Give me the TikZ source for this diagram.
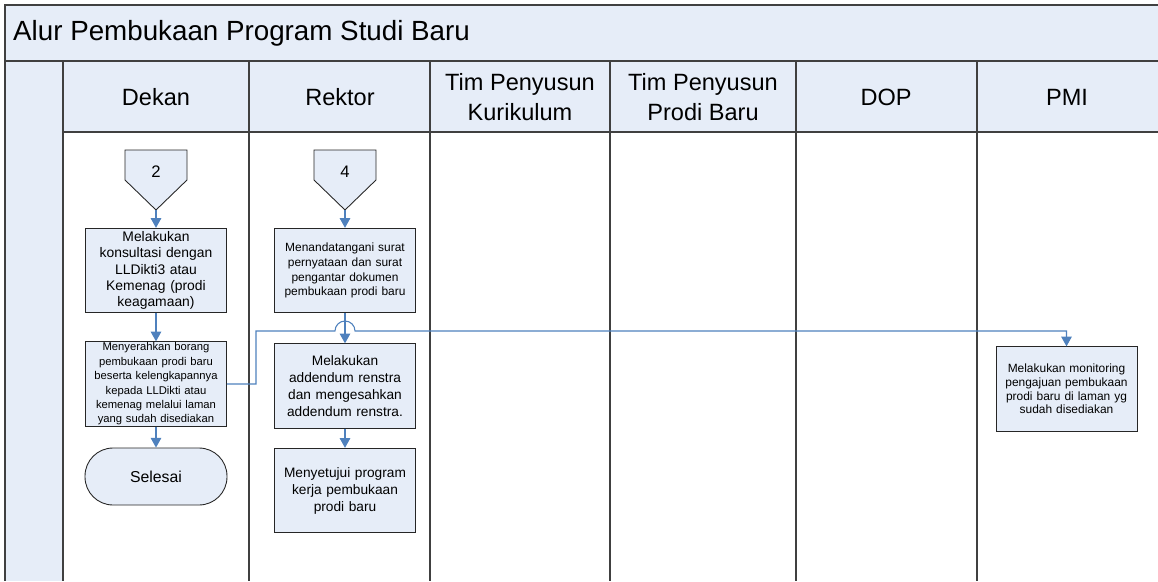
\documentclass[tikz,border=0pt]{standalone}
\usepackage{fontspec}
\setmainfont{Liberation Sans}
\usetikzlibrary{positioning, arrows.meta, calc}
\definecolor{lanefill}{RGB}{230,237,248}
\definecolor{flowblue}{RGB}{79,129,189}
\definecolor{laneline}{RGB}{64,64,64}

\begin{document}
\begin{tikzpicture}[x=0.02cm, y=0.02cm,
	lane/.style = {draw=laneline, line width=1.1pt},
	head/.style = {font=\fontsize{13.4}{17}\selectfont, align=center},
	proc/.style = {draw=black!85, fill=lanefill, line width=0.5pt, align=center, text width=2.7cm, minimum width=2.82cm, minimum height=1.69cm, inner sep=0pt},
	term/.style = {draw=black!85, fill=lanefill, line width=0.5pt, rounded corners=0.56cm, minimum width=2.84cm, minimum height=1.14cm, font=\fontsize{9}{10}\selectfont},
	offpage/.style = {draw=black!85, fill=lanefill, line width=0.5pt},
	flow/.style = {draw=flowblue, line width=0.6pt, -{Triangle[width=6pt,length=5.5pt]}}]
	\useasboundingbox (0,0) rectangle (1158,-581);
	% swimlanes
	\fill[lanefill] (5,-5) rectangle (1158,-132);
	\fill[lanefill] (5,-132) rectangle (63,-581);
	\draw[lane] (1158,-5) -- (5,-5) -- (5,-581);
	\draw[lane] (5,-61) -- (1158,-61);
	\draw[lane] (63,-132) -- (1158,-132);
	\foreach \x in {63,249,430,610,796,977}
		\draw[lane] (\x,-61) -- (\x,-581);
	\node[anchor=west, font=\fontsize{15.8}{18}\selectfont] (title) at (7,-33) {Alur Pembukaan Program Studi Baru};
	\node[head] (dekan) at (156,-97) {Dekan};
	\node[head] (rektor) at (340,-97) {Rektor};
	\node[head] (timkur) at (520,-97) {Tim Penyusun\\Kurikulum};
	\node[head] (timprodi) at (703,-97) {Tim Penyusun\\Prodi Baru};
	\node[head] (dop) at (886,-97) {DOP};
	\node[head] (pmi) at (1067,-97) {PMI};
	% off-page connectors
	\draw[offpage] (125,-150) -- (187,-150) -- (187,-180) -- (156,-210) -- (125,-180) -- cycle;
	\node[font=\fontsize{9.5}{11}\selectfont] (c2) at (156,-172) {2};
	\coordinate (c2tip) at (156,-210);
	\draw[offpage] (314,-150) -- (376,-150) -- (376,-180) -- (345,-210) -- (314,-180) -- cycle;
	\node[font=\fontsize{9.5}{11}\selectfont] (c4) at (345,-172) {4};
	\coordinate (c4tip) at (345,-210);
	% Dekan
	\node[proc, font=\fontsize{7.9}{9.2}\selectfont] (konsul) at (156,-270.5) {Melakukan\\konsultasi dengan\\LLDikti3 atau\\Kemenag (prodi\\keagamaan)};
	\node[proc, font=\fontsize{6.4}{8.2}\selectfont] (serah) at (156,-384) {Menyerahkan borang\\pembukaan prodi baru\\beserta kelengkapannya\\kepada LLDikti atau\\kemenag melalui laman\\yang sudah disediakan};
	\node[term] (selesai) at (156,-476.5) {Selesai};
	% Rektor
	\node[proc, font=\fontsize{6.8}{8.5}\selectfont] (ttd) at (345,-270.5) {Menandatangani surat\\pernyataan dan surat\\pengantar dokumen\\pembukaan prodi baru};
	\node[proc, font=\fontsize{7.8}{9.7}\selectfont] (addendum) at (345,-386) {Melakukan\\addendum renstra\\dan mengesahkan\\addendum renstra.};
	\node[proc, font=\fontsize{7.8}{9.7}\selectfont] (setuju) at (345,-490.5) {Menyetujui program\\kerja pembukaan\\prodi baru};
	% PMI
	\node[proc, font=\fontsize{6.8}{7.7}\selectfont] (monitor) at (1066.5,-389) {Melakukan monitoring\\pengajuan pembukaan\\prodi baru di laman yg\\sudah disediakan};
	% arrows
	\draw[flow] (c2tip) -- (konsul);
	\draw[flow] (konsul) -- (serah);
	\draw[flow] (serah) -- (selesai);
	\draw[flow] (c4tip) -- (ttd);
	\draw[flow] (ttd) -- (addendum);
	\draw[flow] (addendum) -- (setuju);
	\coordinate (bend) at (256,-331);
	\coordinate (hop) at ($(ttd.south |- bend)+(-10,0)$);
	\draw[flow] (serah.east) -| (bend) -- (hop) arc[start angle=180, end angle=0, radius=0.2cm] -| (monitor.north);
\end{tikzpicture}
\end{document}
